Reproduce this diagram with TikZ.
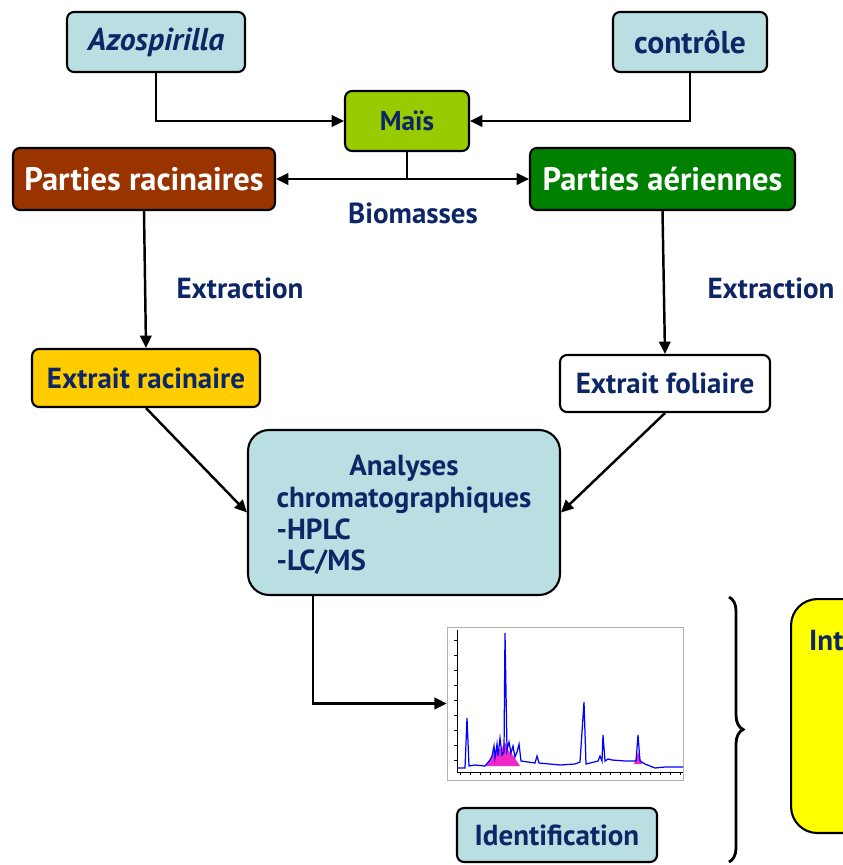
\documentclass[tikz,border=0pt]{standalone}
\usepackage{fontspec}
\setmainfont{PT Sans}
\usetikzlibrary{arrows.meta,positioning,decorations.pathreplacing}
\definecolor{navy}{RGB}{13,38,102}
\definecolor{paleblue}{RGB}{185,223,227}
\definecolor{lime}{RGB}{153,204,0}
\definecolor{rust}{RGB}{153,51,0}
\definecolor{leaf}{RGB}{0,128,0}
\definecolor{gold}{RGB}{255,204,0}
\definecolor{lemon}{RGB}{255,255,0}
\definecolor{peakpink}{RGB}{240,40,200}

\begin{document}
\begin{tikzpicture}[x=0.02cm,y=-0.02cm,
  box/.style={draw=black,line width=1.2pt,rounded corners=4pt,inner sep=0pt,
    font=\bfseries\fontsize{16.5}{18}\selectfont,text=navy},
  arr/.style={line width=1.4pt,-{Triangle[length=7pt,width=6.5pt]}},
  lbl/.style={font=\bfseries\fontsize{16.5}{18}\selectfont,text=navy}]
\useasboundingbox (0,0) rectangle (842,865);

\node[box,fill=paleblue,font=\bfseries\fontsize{18}{20}\selectfont,minimum width=3.56cm,minimum height=1.2cm] (azo) at (156,42) {\itshape Azospirilla};
\node[box,fill=paleblue,font=\bfseries\fontsize{18}{20}\selectfont,minimum width=3.08cm,minimum height=1.2cm] (ctrl) at (690,42) {contrôle};
\node[box,fill=lime,font=\bfseries\fontsize{15.5}{18}\selectfont,minimum width=2.48cm,minimum height=1.2cm] (mais) at (407,121) {Maïs};
\node[box,fill=rust,text=white,font=\bfseries\fontsize{18.5}{20}\selectfont,minimum width=5.24cm,minimum height=1.24cm] (racin) at (144,179) {Parties racinaires};
\node[box,fill=leaf,text=white,font=\bfseries\fontsize{18.5}{20}\selectfont,minimum width=5.3cm,minimum height=1.24cm] (aerien) at (662.5,179) {Parties aériennes};
\node[lbl] (biomasse) at (413,213) {Biomasses};
\node[lbl] (extr1) at (240,288) {Extraction};
\node[lbl] (extr2) at (771,288) {Extraction};
\node[box,fill=gold,minimum width=4.56cm,minimum height=1.16cm] (exracin) at (146,378) {Extrait racinaire};
\node[box,fill=white,minimum width=4.2cm,minimum height=1.14cm] (exfol) at (665,383.5) {Extrait foliaire};
\node[box,fill=paleblue,rounded corners=12pt,minimum width=6.24cm,minimum height=3.3cm] (analyse) at (404,512.5) {};
\node[lbl] (analyselbl) at (404,517) 
  {\begin{tabular}{@{}l@{}}\multicolumn{1}{c}{Analyses}\\chromatographiques\\-HPLC\\-LC/MS\end{tabular}};
\node[draw=gray!60,line width=0.4pt,minimum width=4.72cm,minimum height=3.06cm,inner sep=0pt] (chrom) at (565,703.5) {};
\node[box,fill=paleblue,minimum width=4cm,minimum height=1.08cm] (ident) at (557,835) {Identification};
\node[box,fill=lemon,rounded corners=15pt,minimum width=3cm,minimum height=4.68cm,anchor=north west] (interp) at (790,598) {};
\node[lbl,anchor=north west] (interplbl) at (803,624) {Int};

\draw[arr] (azo.south) |- (mais.west);
\draw[arr] (ctrl.south) |- (mais.east);
\draw[line width=1.4pt] (mais.south) -- (mais.south |- racin.east) coordinate (split);
\draw[arr] (split) -- (racin.east);
\draw[arr] (split) -- (split -| aerien.west);
\draw[arr] (racin.south) -- (exracin.north);
\draw[arr] (aerien.south) -- (exfol.north);
\draw[arr] (exracin.south) -- (analyse.west);
\draw[arr] (exfol.south) -- (analyse.east);
\draw[arr] ([xshift=-1.82cm]analyse.south) |- (chrom.west);

\draw[line width=0.5pt] (457,630) -- (457,772) -- (683,772);
\foreach \t in {460,470,...,680} \draw[line width=0.3pt] (\t,772) -- (\t,775);
\foreach \t in {640,655,...,765} \draw[line width=0.3pt] (454,\t) -- (457,\t);
\fill[peakpink] (485,766) -- (490,760) -- (494,752) -- (498,750) -- (502,748) -- (505,742) -- (508,750) -- (512,754) -- (516,760) -- (520,766) -- cycle;
\fill[peakpink] (634,764) -- (638,752) -- (642,764) -- cycle;
\draw[blue,line width=0.7pt] plot coordinates {(457,768) (465,768) (467,718) (469,766) (475,765) (485,766) (490,760)
  (492,756) (494,746) (495,758) (497,744) (498,756) (500,738) (502,755) (504,752) (505,633) (507,750)
  (509,742) (511,753) (513,746) (515,757) (517,752) (519,744) (521,761) (535,763) (537,756) (539,763)
  (560,765) (575,764) (580,762) (584,702) (586,764) (590,763) (598,761) (600,756) (602,761) (603,735)
  (605,761) (608,759) (612,760) (625,761) (636,761) (638,735) (640,761) (645,764) (655,768) (665,767) (683,767)};

\draw[decorate,decoration={brace,amplitude=8pt},line width=1.6pt] (729,597) -- (729,862);
\end{tikzpicture}
\end{document}
